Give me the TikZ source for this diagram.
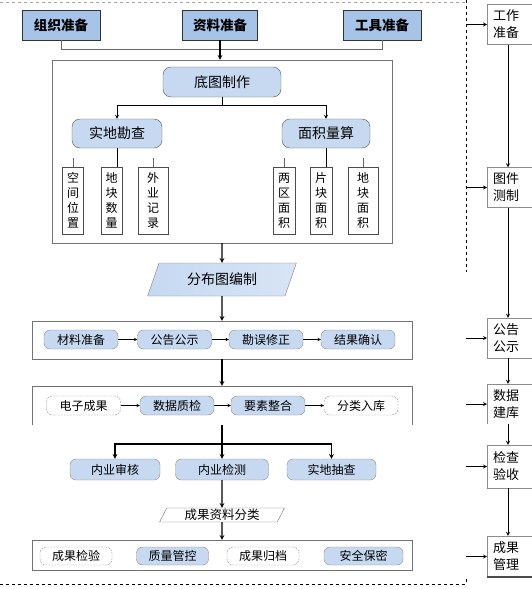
\documentclass[tikz,border=0pt]{standalone}
\usepackage{fontspec}
\setmainfont{Noto Sans CJK SC}
\usetikzlibrary{shapes,arrows,positioning,calc,arrows.meta}
\definecolor{prepblue}{RGB}{166,195,232}
\definecolor{paleblue}{RGB}{198,217,241}

\begin{document}
\begin{tikzpicture}[x=1pt, y=-1pt, >=stealth,
        prep/.style={draw=black!80, fill=prepblue, minimum height=30pt, font=\bfseries\fontsize{13.5}{16}\selectfont},
        phase/.style={draw=black!65, fill=paleblue, rounded corners=8pt, minimum height=30pt, font=\fontsize{14}{16}\selectfont},
        leaf/.style={draw=black!70, fill=white, minimum height=67pt, inner sep=1pt, align=center, font=\fontsize{12}{15}\selectfont},
        task/.style={draw=black!45, fill=paleblue, rounded corners=6pt, minimum width=74pt, minimum height=19pt, inner sep=1pt, font=\fontsize{12}{14}\selectfont},
        hollowtask/.style={task, fill=white, dash pattern=on 2pt off 1pt},
        panel/.style={draw=black!55},
        stage/.style={draw=black!45, anchor=west, text width=40pt, align=left, inner xsep=6pt, minimum height=40pt, font=\fontsize{13}{17}\selectfont},
        slantbox/.style={trapezium, trapezium left angle=64, trapezium right angle=116, trapezium stretches=true, inner sep=0pt},
        flow/.style={->, line width=1.1pt},
        link/.style={->, line width=0.5pt}
    ]
        \useasboundingbox (0,0) rectangle (532,589);

        \draw[black!35, dashed] (0,2) -- (466,2);
        \draw[dashed] (466,0) -- (466,272);
        \draw[dashed] (0,584) -- (466,584) -- (466,578);

        \node[prep, minimum width=78pt] (org) at (61,25) {组织准备};
        \node[prep, minimum width=75pt] (data) at (220,25) {资料准备};
        \node[prep, minimum width=78pt] (tool) at (382,25) {工具准备};

        \node[panel, minimum width=340pt, minimum height=183pt] (survey) at (222,151.5) {};
        \node[phase, minimum width=118pt] (base) at (222,82) {底图制作};
        \node[phase, minimum width=90pt, minimum height=29pt] (field) at (117,133.5) {实地勘查};
        \node[phase, minimum width=88pt, minimum height=29pt] (area) at (326,133.5) {面积量算};

        \node[leaf, minimum width=21pt] (pos) at (73,200.5) {空\\间\\位\\置};
        \node[leaf, minimum width=21pt] (num) at (111.5,200.5) {地\\块\\数\\量};
        \node[leaf, minimum width=30pt] (rec) at (153,200.5) {外\\业\\记\\录};
        \node[leaf, minimum width=22pt] (zone) at (284,200.5) {两\\区\\面\\积};
        \node[leaf, minimum width=22pt] (patch) at (321,200.5) {片\\块\\面\\积};
        \node[leaf, minimum width=30pt] (plot) at (363,200.5) {地\\块\\面\\积};

        \node[slantbox, draw=black!50, left color=paleblue, right color=paleblue!70!white, minimum width=150pt, minimum height=33pt, font=\fontsize{14}{16}\selectfont] (map) at (222,279.5) {分布图编制};

        \node[panel, minimum width=380pt, minimum height=38pt] (notice) at (222,340) {};
        \node[task] (material) at (81,339.5) {材料准备};
        \node[task] (announce) at (174.5,339.5) {公告公示};
        \node[task] (revise) at (266,339.5) {勘误修正};
        \node[task] (confirm) at (358,339.5) {结果确认};

        \node[minimum width=380pt, minimum height=39pt] (build) at (222,405.5) {};
        \draw[panel] (build.south west) |- (build.north east) -- (build.south east);
        \node[hollowtask] (ecopy) at (83.5,405.5) {电子成果};
        \node[task] (qc) at (177,405.5) {数据质检};
        \node[task] (merge) at (268,405.5) {要素整合};
        \node[hollowtask] (store) at (361,405.5) {分类入库};

        \node[task, minimum width=90pt, minimum height=21pt] (audit) at (115,469.5) {内业审核};
        \node[task, minimum width=93pt, minimum height=21pt] (inspect) at (222,469.5) {内业检测};
        \node[task, minimum width=89pt, minimum height=21pt] (spot) at (331.5,469.5) {实地抽查};

        \node[slantbox, draw=black!55, fill=white, trapezium left angle=67, trapezium right angle=113, minimum width=126pt, minimum height=14pt, font=\fontsize{12.5}{14}\selectfont] (sort) at (222,515) {成果资料分类};

        \node[panel, minimum width=380pt, minimum height=30pt] (archive) at (222,555) {};
        \node[hollowtask, minimum width=72pt, minimum height=18pt] (verify) at (76,556) {成果检验};
        \node[task, minimum width=72pt, minimum height=18pt] (control) at (172.5,556) {质量管控};
        \node[hollowtask, minimum width=72pt, minimum height=18pt] (file) at (263,556) {成果归档};
        \node[task, minimum width=79pt, minimum height=18pt] (secure) at (363.5,556) {安全保密};

        \draw[line width=1pt, black!60] (org.south) -- ++(0,9) -| (tool.south);
        \draw[flow] (data.south) -- (data.south |- survey.north);
        \draw[flow, line width=0.8pt] (base.south) -- ++(0,8) -| (field.north);
        \draw[flow, line width=0.8pt] (base.south) -- ++(0,8) -| (area.north);
        \draw[line width=0.8pt] (field.south) -- (field.south |- num.north);
        \draw[line width=0.8pt] (area.south) -- (area.south |- patch.north);
        \foreach \leafnode in {pos, rec, zone, plot}
            \draw[black!60] (\leafnode.north) -- ++(0,-9);

        \draw[flow] (survey.south) -- (map.north);
        \draw[flow] (map.south) -- (notice.north);
        \foreach \a/\b in {material/announce, announce/revise, revise/confirm, ecopy/qc, qc/merge, merge/store}
            \draw[link] (\a) -- (\b);
        \draw[flow] (notice.south) -- (build.north);
        \coordinate (split) at (222,444);
        \draw[flow] (build.south) -- (split) -- (inspect.north);
        \draw[flow] (split) -| (audit.north);
        \draw[flow] (split) -| (spot.north);
        \draw[flow] (inspect.south) -- (sort.north);
        \draw[flow] (sort.south) -- (archive.north);

        \coordinate (edge) at (466,0);
        \coordinate (spine) at (508,0);
        \node[stage] (work) at (487,24.5) {工作\\准备};
        \node[stage] (draft) at (487,187.5) {图件\\测制};
        \node[stage] (pub) at (487,338) {公告\\公示};
        \node[stage, draw=none] (db) at (487,404) {数据\\建库};
        \draw[black!45] (db.south west) |- (db.north east);
        \node[stage, minimum height=43pt] (accept) at (487,466.5) {检查\\验收};
        \node[stage, minimum height=41pt] (result) at (487,556.5) {成果\\管理};
        \draw[line width=1.5pt, black!70] (result.south west) -- (result.south east);

        \foreach \a/\b in {work/draft, draft/pub, pub/db, db/accept, accept/result}
            \draw[flow, line width=0.8pt] (\a.south -| spine) -- (\b.north -| spine);
        \foreach \s in {work, draft, pub, db, accept, result}
            \draw[flow, line width=0.8pt] (\s.west -| edge) -- (\s.west);
    \end{tikzpicture}
\end{document}
